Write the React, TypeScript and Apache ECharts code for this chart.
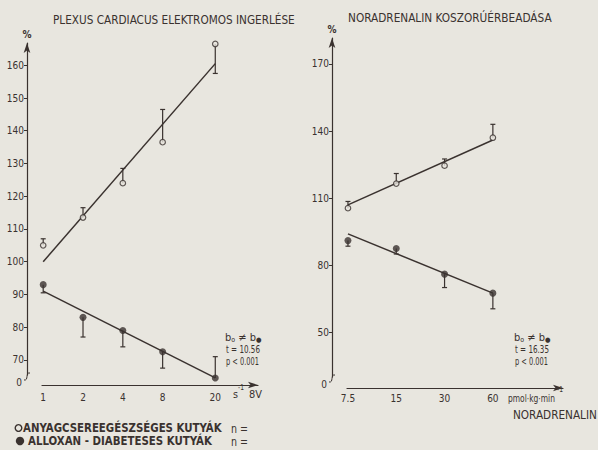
import React, { useEffect, useRef } from "react";
import * as echarts from "echarts";

const W = 598;
const H = 450;
const INK = "#3a322f";
const PAPER = "#e8e6df";
const NARROW = '"Liberation Sans Narrow", "DejaVu Sans Condensed", "Roboto", sans-serif';

const HEALTHY = "ANYAGCSEREEGÉSZSÉGES KUTYÁK";
const DIABETIC = "ALLOXAN - DIABETESES KUTYÁK";

// Left panel: electrical stimulation of the cardiac plexus (frequency, s^-1)
const stimFreq = [1, 2, 4, 8, 20];
const stimHealthy = [105, 113.5, 124, 136.5, 166.5];
const stimHealthyErr = [107, 116.5, 128.5, 146.5, 157.5];
const stimDiabetic = [93, 83, 79, 72.5, 64.5];
const stimDiabeticErr = [90.5, 77, 74, 67.5, 71];
const stimFitFreq = [1, 20];
const stimFitHealthy = [100, 160.5];
const stimFitDiabetic = [91, 64.5];
const stimTicksY = [70, 80, 90, 100, 110, 120, 130, 140, 150, 160];

// Right panel: intracoronary noradrenaline (pmol/kg/min)
const noraDose = [7.5, 15, 30, 60];
const noraHealthy = [105.5, 116.5, 124.5, 137];
const noraHealthyErr = [108.5, 121, 127.5, 143];
const noraDiabetic = [91, 87.5, 76, 67.5];
const noraDiabeticErr = [88.5, 85, 70, 60.5];
const noraFitDose = [7.5, 60];
const noraFitHealthy = [107, 136];
const noraFitDiabetic = [94, 67.5];
const noraTicksY = [50, 80, 110, 140, 170];

// Slope comparison statistics for each panel
const statT = ["10.56", "16.35"];
const statP = ["0.001", "0.001"];

// Panel layout (pixels)
const GL = { left: 42, right: W - 258, top: 43, bottom: H - 375 };
const GR = { left: 347, right: W - 563, top: 38, bottom: H - 377 };
const Y_OFFSET = 15;

const lg2 = (v: number) => Math.log2(v);

function textScale(text: string, font: string, width: number) {
  const ctx = document.createElement("canvas").getContext("2d");
  if (!ctx) return 1;
  ctx.font = font;
  const w = ctx.measureText(text).width;
  return w > 0 ? width / w : 1;
}

function fitText(text: string, x: number, y: number, width: number, size: number, weight = "normal") {
  const font = `${weight} ${size}px ${NARROW}`;
  return {
    type: "text",
    x,
    y,
    scaleX: textScale(text, font, width),
    style: { text, font, fill: INK, align: "left", verticalAlign: "middle" },
  };
}

const doseLabel = (v: number) => {
  const d = Math.pow(2, v);
  return Math.abs(d - Math.round(d)) > 0.02 ? d.toFixed(1) : String(Math.round(d));
};

function errorBars(xs: number[], ys: number[], ends: number[]) {
  return xs.map((x, i) => [lg2(x), ys[i], ends[i]]);
}

function points(xs: number[], ys: number[]) {
  return xs.map((x, i) => [lg2(x), ys[i]]);
}

const renderErr = (params: any, api: any) => {
  const p = api.coord([api.value(0), api.value(1)]);
  const q = api.coord([api.value(0), api.value(2)]);
  const st = { stroke: INK, lineWidth: 1.2 };
  return {
    type: "group",
    children: [
      { type: "line", shape: { x1: p[0], y1: p[1], x2: q[0], y2: q[1] }, style: st },
      { type: "line", shape: { x1: q[0] - 2.5, y1: q[1], x2: q[0] + 2.5, y2: q[1] }, style: st },
    ],
  };
};

function xAxisFor(gridIndex: number, min: number, max: number, ticks: number[], margin: number, offset: number) {
  return {
    type: "value",
    gridIndex,
    min,
    max,
    offset,
    axisLine: {
      show: true,
      onZero: false,
      symbol: ["none", "arrow"],
      symbolSize: [5, 10],
      lineStyle: { color: INK, width: 1.2 },
    },
    axisTick: { show: false },
    splitLine: { show: false },
    axisLabel: {
      customValues: ticks.map(lg2),
      formatter: doseLabel,
      color: INK,
      fontSize: 10,
      fontFamily: NARROW,
      margin,
    },
  };
}

function yAxisFor(gridIndex: number, min: number, max: number, ticks: number[]) {
  return {
    type: "value",
    gridIndex,
    min,
    max,
    offset: Y_OFFSET,
    name: "%",
    nameLocation: "end",
    nameGap: 4,
    nameTextStyle: { color: INK, fontSize: 10, fontWeight: "bold", fontFamily: NARROW, align: "center" },
    axisLine: {
      show: true,
      onZero: false,
      symbol: ["none", "arrow"],
      symbolSize: [5, 10],
      lineStyle: { color: INK, width: 1.2 },
    },
    axisTick: { show: true, length: 3, customValues: ticks, lineStyle: { color: INK, width: 1 } },
    splitLine: { show: false },
    axisLabel: {
      customValues: ticks,
      color: INK,
      fontSize: 10,
      fontFamily: NARROW,
      margin: 3,
    },
  };
}

function panelSeries(
  idx: number,
  xs: number[],
  h: number[],
  hErr: number[],
  d: number[],
  dErr: number[],
  fitX: number[],
  fitH: number[],
  fitD: number[]
) {
  const axes = { xAxisIndex: idx, yAxisIndex: idx };
  const line = (data: number[][]) => ({
    type: "line",
    ...axes,
    data,
    symbol: "none",
    clip: false,
    z: 2,
    silent: true,
    lineStyle: { color: INK, width: 1.5 },
  });
  return [
    line(points(fitX, fitH)),
    line(points(fitX, fitD)),
    {
      type: "custom",
      ...axes,
      data: errorBars(xs, h, hErr),
      encode: { x: 0, y: [1, 2] },
      renderItem: renderErr,
      clip: false,
      z: 3,
    },
    {
      type: "custom",
      ...axes,
      data: errorBars(xs, d, dErr),
      encode: { x: 0, y: [1, 2] },
      renderItem: renderErr,
      clip: false,
      z: 3,
    },
    {
      type: "scatter",
      name: HEALTHY,
      ...axes,
      data: points(xs, h),
      symbol: "circle",
      symbolSize: 5.5,
      clip: false,
      z: 4,
      itemStyle: { color: PAPER, borderColor: INK, borderWidth: 1.2 },
    },
    {
      type: "scatter",
      name: DIABETIC,
      ...axes,
      data: points(xs, d),
      symbol: "circle",
      symbolSize: 7,
      clip: false,
      z: 4,
      itemStyle: { color: INK },
    },
  ];
}

function breakMark(ax: number, by: number) {
  return [
    {
      type: "bezierCurve",
      shape: { x1: ax - 3, y1: by + 5, cpx1: ax + 2, cpy1: by + 6, cpx2: ax - 2, cpy2: by - 3, x2: ax + 3, y2: by - 2 },
      style: { stroke: INK, lineWidth: 1, fill: null },
    },
    {
      type: "text",
      x: ax - 5,
      y: by + 7,
      style: { text: "0", font: `10px ${NARROW}`, fill: INK, align: "right", verticalAlign: "middle" },
    },
  ];
}

function statsBlock(x: number, y: number, t: string, p: string) {
  return [
    {
      type: "text",
      x,
      y,
      style: {
        text: "b{s|o} ≠ b{s|●}",
        font: `11px ${NARROW}`,
        fill: INK,
        align: "left",
        verticalAlign: "middle",
        rich: { s: { fontSize: 7, fontFamily: NARROW, fill: INK, padding: [5, 0, 0, 0] } },
      },
    },
    fitText(`t = ${t}`, x + 1, y + 12, 34, 11),
    fitText(`p < ${p}`, x + 1, y + 24, 33, 11),
  ];
}

export default function App() {
  const ref = useRef<HTMLDivElement>(null);

  useEffect(() => {
    if (!ref.current) return;
    const chart = echarts.init(ref.current, null, { renderer: "svg", width: W, height: H });

    const lAxisX = GL.left - Y_OFFSET;
    const lAxisBottom = H - GL.bottom;
    const rAxisX = GR.left - Y_OFFSET;
    const rAxisBottom = H - GR.bottom;

    const graphic: any[] = [
      fitText("PLEXUS CARDIACUS ELEKTROMOS INGERLÉSE", 53, 20, 242, 13),
      fitText("NORADRENALIN KOSZORÚÉRBEADÁSA", 348, 18, 204, 13),
      ...breakMark(lAxisX, lAxisBottom),
      ...breakMark(rAxisX, rAxisBottom),
      ...statsBlock(225, 337, statT[0], statP[0]),
      ...statsBlock(514, 337, statT[1], statP[1]),
      // frequency unit
      fitText("s", 233, 394, 5, 10),
      fitText("-1", 238, 387, 6, 8),
      fitText("8V", 249, 394, 13, 11),
      // dose unit
      fitText("pmol·kg·min", 508, 398, 47, 10),
      fitText("-1", 557, 389, 6, 8),
      fitText("NORADRENALIN", 513, 415, 84, 13),
      // legend
      {
        type: "circle",
        shape: { cx: 18.5, cy: 428, r: 3.3 },
        style: { fill: PAPER, stroke: INK, lineWidth: 1.4 },
      },
      fitText(HEALTHY, 23, 428, 199, 13, "bold"),
      fitText("n =", 231, 429, 17, 12),
      {
        type: "circle",
        shape: { cx: 20, cy: 441, r: 4.2 },
        style: { fill: INK },
      },
      fitText(DIABETIC, 28, 441, 184, 13, "bold"),
      fitText("n =", 231, 442, 17, 12),
    ];

    const rRight = W - GR.right;
    const rx0 = lg2(noraDose[0]) - 0.02;

    chart.setOption({
      animation: false,
      backgroundColor: PAPER,
      textStyle: { fontFamily: NARROW, color: INK },
      grid: [
        { ...GL, containLabel: false },
        { ...GR, containLabel: false },
      ],
      xAxis: [
        xAxisFor(0, -0.03, 5.395, stimFreq, 7, 10),
        xAxisFor(1, rx0, rx0 + (rRight - GR.left) / 48.3, noraDose, 5, 11),
      ],
      yAxis: [yAxisFor(0, 65.4, 166.8, stimTicksY), yAxisFor(1, 30, 181.6, noraTicksY)],
      series: [
        ...panelSeries(0, stimFreq, stimHealthy, stimHealthyErr, stimDiabetic, stimDiabeticErr, stimFitFreq, stimFitHealthy, stimFitDiabetic),
        ...panelSeries(1, noraDose, noraHealthy, noraHealthyErr, noraDiabetic, noraDiabeticErr, noraFitDose, noraFitHealthy, noraFitDiabetic),
      ],
      graphic,
    });

    return () => chart.dispose();
  }, []);

  return (
    <div
      ref={ref}
      style={{ position: "fixed", left: 0, top: 0, width: W, height: H, background: PAPER }}
    />
  );
}
